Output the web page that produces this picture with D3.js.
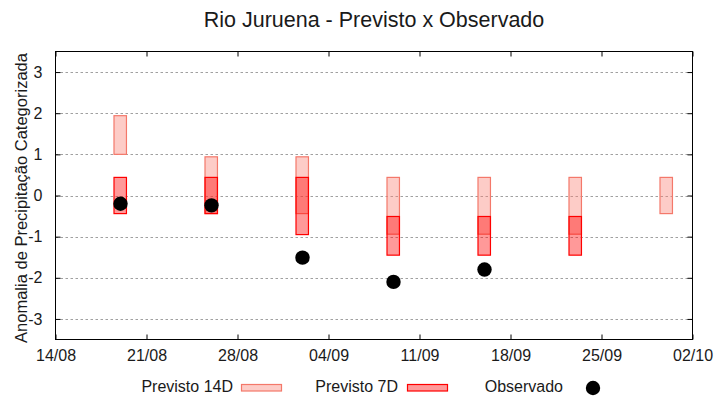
<!DOCTYPE html>
<html>
<head>
<meta charset="utf-8">
<script src="https://cdn.jsdelivr.net/npm/d3@7"></script>
<style>
  body { margin: 0; background: #fff; }
  text { font-family: "Liberation Sans", Arial, sans-serif; fill: #1a1a1a; }
</style>
</head>
<body>
<svg id="chart" width="720" height="400"></svg>
<script>
// forecast dates (one bar per week)
var dates = ["2021-08-19", "2021-08-26", "2021-09-02", "2021-09-09", "2021-09-16", "2021-09-23", "2021-09-30"];
// 14 day forecast range
var prev14Low  = [1.0, -0.44, -0.44, -0.94, -0.94, -0.94, -0.44];
var prev14High = [1.94, 0.94, 0.94, 0.44, 0.44, 0.44, 0.44];
// 7 day forecast range
var prev7Low   = [-0.44, -0.44, -0.95, -1.45, -1.45, -1.45, null];
var prev7High  = [0.44, 0.44, 0.44, -0.51, -0.51, -0.51, null];
// observed anomaly
var observed   = [-0.2, -0.24, -1.51, -2.1, -1.8, null, null];

var yTicks = [-3, -2, -1, 0, 1, 2, 3];
var xStart = "2021-08-14", xEnd = "2021-10-02";

var parse = d3.utcParse("%Y-%m-%d"),
    fmt = d3.utcFormat("%d/%m");

var svg = d3.select("#chart");
var L = 55.5, R = 692.5, T = 51.5, B = 339.5;

var x = d3.scaleUtc()
    .domain([parse(xStart), parse(xEnd)])
    .range([L, R]);
var y = d3.scaleLinear()
    .domain([-3.5, 3.5])
    .range([B, T]);

var halfW = 0.47; // bar half width, in days
function dayShift(d, n){ return d3.utcHour.offset(d, n * 24); }

/*
    grid
*/
svg.append("g").selectAll("line")
    .data(yTicks)
    .join("line")
    .attr("x1", L).attr("x2", R)
    .attr("y1", function(d){ return Math.round(y(d)) + 0.5; })
    .attr("y2", function(d){ return Math.round(y(d)) + 0.5; })
    .attr("stroke", "#a0a0a0")
    .attr("stroke-width", 1)
    .attr("stroke-dasharray", "2.5,2.5");

/*
    bars
*/
var rows = dates.map(function(d, i){
    return {date: parse(d), l14: prev14Low[i], h14: prev14High[i],
            l7: prev7Low[i], h7: prev7High[i], obs: observed[i]};
});

svg.append("g").selectAll("rect")
    .data(rows)
    .join("rect")
    .attr("x", function(d){ return x(dayShift(d.date, -halfW)); })
    .attr("width", function(d){ return x(dayShift(d.date, halfW)) - x(dayShift(d.date, -halfW)); })
    .attr("y", function(d){ return y(d.h14); })
    .attr("height", function(d){ return y(d.l14) - y(d.h14); })
    .attr("fill", "salmon").attr("fill-opacity", 0.4)
    .attr("stroke", "#f4786a").attr("stroke-width", 1.2);

svg.append("g").selectAll("rect")
    .data(rows.filter(function(d){ return d.l7 != null; }))
    .join("rect")
    .attr("x", function(d){ return x(dayShift(d.date, -halfW)); })
    .attr("width", function(d){ return x(dayShift(d.date, halfW)) - x(dayShift(d.date, -halfW)); })
    .attr("y", function(d){ return y(d.h7); })
    .attr("height", function(d){ return y(d.l7) - y(d.h7); })
    .attr("fill", "red").attr("fill-opacity", 0.4)
    .attr("stroke", "red").attr("stroke-width", 1.2);

svg.append("g").selectAll("circle")
    .data(rows.filter(function(d){ return d.obs != null; }))
    .join("circle")
    .attr("cx", function(d){ return x(d.date); })
    .attr("cy", function(d){ return y(d.obs); })
    .attr("r", 7.2)
    .attr("fill", "black");

/*
    axes (gnuplot style, ticks inside, mirrored)
*/
var xTicks = d3.range(0, 8).map(function(i){ return d3.utcDay.offset(parse(xStart), i * 7); });

svg.append("g")
    .attr("transform", "translate(0," + B + ")")
    .call(d3.axisBottom(x).tickValues(xTicks).tickFormat(fmt).tickSizeInner(-5).tickSizeOuter(0).tickPadding(10))
    .call(function(g){
        g.select(".domain").remove();
        g.selectAll("text").attr("font-size", 16).attr("dy", "0.71em")
            .style("font-family", "Liberation Sans, Arial, sans-serif").attr("fill", "#1a1a1a");
    });
svg.append("g")
    .attr("transform", "translate(0," + T + ")")
    .call(d3.axisTop(x).tickValues(xTicks).tickFormat("").tickSizeInner(-5).tickSizeOuter(0))
    .call(function(g){ g.select(".domain").remove(); });

svg.append("g")
    .attr("transform", "translate(" + L + ",0)")
    .call(d3.axisLeft(y).tickValues(yTicks).tickFormat(d3.format("d")).tickSizeInner(-5).tickSizeOuter(0).tickPadding(13))
    .call(function(g){
        g.select(".domain").remove();
        g.selectAll("text").attr("font-size", 16)
            .style("font-family", "Liberation Sans, Arial, sans-serif").attr("fill", "#1a1a1a")
            .text(function(d){ return d < 0 ? "-" + Math.abs(d) : d; });
    });
svg.append("g")
    .attr("transform", "translate(" + R + ",0)")
    .call(d3.axisRight(y).tickValues(yTicks).tickFormat("").tickSizeInner(-5).tickSizeOuter(0))
    .call(function(g){ g.select(".domain").remove(); });

svg.selectAll(".tick line").attr("stroke", "black");

svg.append("rect")
    .attr("x", L).attr("y", T)
    .attr("width", R - L).attr("height", B - T)
    .attr("fill", "none").attr("stroke", "black").attr("stroke-width", 1);

/*
    titles
*/
svg.append("text")
    .attr("x", 374).attr("y", 27)
    .attr("text-anchor", "middle")
    .attr("font-size", 21.5)
    .text("Rio Juruena - Previsto x Observado");

svg.append("text")
    .attr("transform", "translate(27,198) rotate(-90)")
    .attr("text-anchor", "middle")
    .attr("font-size", 16.5)
    .text("Anomalia de Precipitação Categorizada");

/*
    legend
*/
var legend = svg.append("g");
legend.append("text").attr("x", 233).attr("y", 392).attr("text-anchor", "end").attr("font-size", 16).text("Previsto 14D");
legend.append("rect").attr("x", 241.5).attr("y", 384.5).attr("width", 40).attr("height", 6.5)
    .attr("fill", "salmon").attr("fill-opacity", 0.4).attr("stroke", "#f4786a").attr("stroke-width", 1.2);
legend.append("text").attr("x", 398).attr("y", 392).attr("text-anchor", "end").attr("font-size", 16).text("Previsto 7D");
legend.append("rect").attr("x", 407.5).attr("y", 384.5).attr("width", 40).attr("height", 6.5)
    .attr("fill", "red").attr("fill-opacity", 0.4).attr("stroke", "red").attr("stroke-width", 1.2);
legend.append("text").attr("x", 563).attr("y", 392).attr("text-anchor", "end").attr("font-size", 16).text("Observado");
legend.append("circle").attr("cx", 593).attr("cy", 388).attr("r", 7.2).attr("fill", "black");
</script>
</body>
</html>
